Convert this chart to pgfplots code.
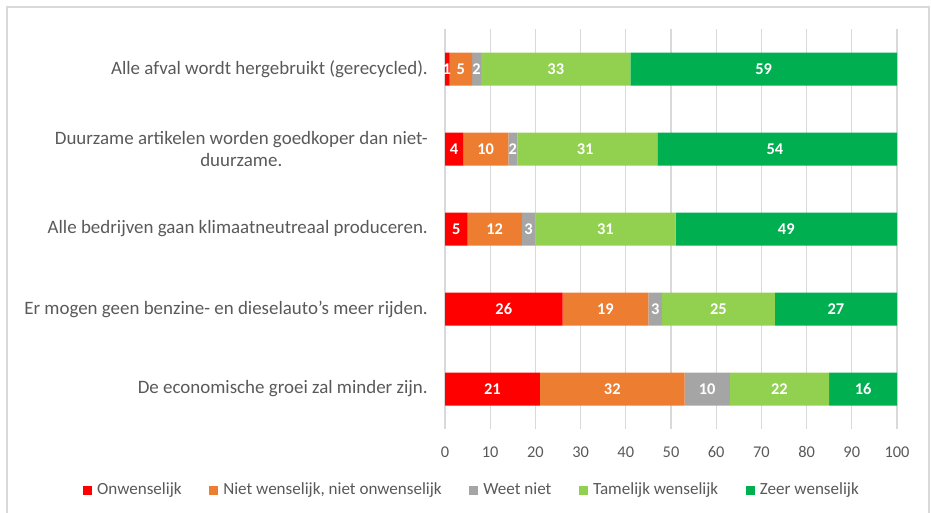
\documentclass[border=0pt]{standalone}
\usepackage{pgfplots}
\pgfplotsset{compat=1.18}
\usepackage{fontspec}
\setmainfont{Carlito}
\definecolor{txt}{HTML}{595959}
\definecolor{grd}{HTML}{D9D9D9}
\definecolor{cRed}{HTML}{FF0000}
\definecolor{cOra}{HTML}{ED7D31}
\definecolor{cGry}{HTML}{A5A5A5}
\definecolor{cLgr}{HTML}{92D050}
\definecolor{cGrn}{HTML}{00B050}
\begin{document}
\begin{tikzpicture}
\useasboundingbox (0,0) rectangle (698.25pt,384pt);
\draw[grd, line width=1.5pt] (4.9pt,-2pt) -- (4.9pt,378.75pt) -- (696.75pt,378.75pt) -- (696.75pt,-2pt);
\begin{axis}[
  at={(333.75pt,62.25pt)}, anchor=south west,
  scale only axis, width=339pt, height=300pt,
  xbar stacked, bar width=24.75pt,
  xmin=0, xmax=100, ymin=0.5, ymax=5.5,
  xtick={0,10,...,100},
  ytick={1,2,3,4,5},
  yticklabels={
    {De economische groei zal minder zijn.},
    {Er mogen geen benzine- en dieselauto’s meer rijden.},
    {Alle bedrijven gaan klimaatneutreaal produceren.},
    {Duurzame artikelen worden goedkoper dan niet-\\duurzame.},
    {Alle afval wordt hergebruikt (gerecycled).}},
  axis line style={draw=none},
  tick style={draw=none},
  major tick length=0pt,
  xmajorgrids, grid style={grd, line width=0.9pt},
  /pgf/number format/assume math mode=true,
  xticklabel style={font=\fontsize{12.3}{14}\selectfont, text=txt, anchor=center, yshift=-17.25pt},
  yticklabel style={font=\fontsize{14.2}{17}\selectfont, text=txt, anchor=east, align=center, inner sep=0pt, xshift=-12.75pt},
  legend columns=5,
  legend style={at={(0.06,-0.1525)}, anchor=center, draw=none, fill=none,
    font=\fontsize{12.8}{14}\selectfont, text=txt,
    /tikz/every even column/.append style={column sep=18.5pt},
    /tikz/every odd column/.append style={column sep=2pt}},
  legend image code/.code={\fill[#1] (0pt,-3.375pt) rectangle (6.75pt,3.375pt);},
]
\addplot[fill=cRed, draw=none] coordinates {(21,1) (26,2) (5,3) (4,4) (1,5)};
\addplot[fill=cOra, draw=none] coordinates {(32,1) (19,2) (12,3) (10,4) (5,5)};
\addplot[fill=cGry, draw=none] coordinates {(10,1) (3,2) (3,3) (2,4) (2,5)};
\addplot[fill=cLgr, draw=none] coordinates {(22,1) (25,2) (31,3) (31,4) (33,5)};
\addplot[fill=cGrn, draw=none] coordinates {(16,1) (27,2) (49,3) (54,4) (59,5)};
\legend{Onwenselijk, {Niet wenselijk, niet onwenselijk}, Weet niet, Tamelijk wenselijk, Zeer wenselijk}
\end{axis}
\begin{axis}[
  at={(333.75pt,62.25pt)}, anchor=south west,
  scale only axis, width=339pt, height=300pt,
  xmin=0, xmax=100, ymin=0.5, ymax=5.5,
  hide axis, clip=false,
]
\addplot[draw=none, mark=none, nodes near coords, point meta=explicit symbolic,
  nodes near coords align=center,
  every node near coord/.append style={text=white, font=\bfseries\fontsize{12.3}{14}\selectfont, inner sep=0pt}]
  coordinates {
  (0.4,5) [1] (3.5,5) [5] (7,5) [2] (24.5,5) [33] (70.5,5) [59]
  (2,4) [4] (9,4) [10] (15,4) [2] (31,4) [31] (73,4) [54]
  (2.5,3) [5] (11,3) [12] (18.5,3) [3] (35.5,3) [31] (75.5,3) [49]
  (13,2) [26] (35.5,2) [19] (46.5,2) [3] (60.5,2) [25] (86.5,2) [27]
  (10.5,1) [21] (37,1) [32] (58,1) [10] (74,1) [22] (92.5,1) [16]
  };
\end{axis}
\end{tikzpicture}
\end{document}
